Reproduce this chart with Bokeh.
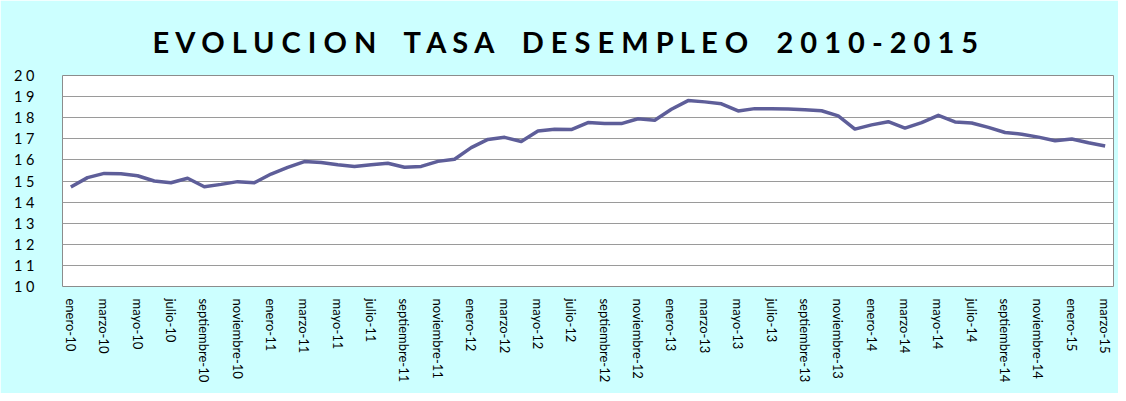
from bokeh.plotting import figure
from bokeh.models import FixedTicker, Range1d
from bokeh.embed import file_html
from bokeh.resources import INLINE

# ---- data ----
meses = ["enero", "febrero", "marzo", "abril", "mayo", "junio", "julio",
         "agosto", "septiembre", "octubre", "noviembre", "diciembre"]
anios = ["10", "11", "12", "13", "14", "15"]
categorias = [f"{m}-{a}" for a in anios for m in meses][:63]

tasa = [14.72, 15.16, 15.36, 15.34, 15.25, 15.00, 14.92, 15.13, 14.73, 14.84, 14.97, 14.92,
        15.33, 15.65, 15.92, 15.88, 15.77, 15.69, 15.77, 15.84, 15.65, 15.69, 15.93, 16.03,
        16.58, 16.97, 17.07, 16.87, 17.37, 17.45, 17.44, 17.77, 17.72, 17.72, 17.95, 17.88,
        18.40, 18.81, 18.75, 18.66, 18.32, 18.43, 18.43, 18.41, 18.38, 18.33, 18.09, 17.46,
        17.66, 17.81, 17.51, 17.77, 18.11, 17.80, 17.75, 17.54, 17.30, 17.22, 17.08, 16.91,
        16.99, 16.81, 16.66]

y_ticks = [10, 11, 12, 13, 14, 15, 16, 17, 18, 19, 20]
NB = "\u00a0"
y_tick_labels = [NB.join(str(t)) for t in y_ticks]

palabras = ["EVOLUCION", "TASA", "DESEMPLEO", "2010-2015"]
titulo = (NB * 4).join(NB.join(w) for w in palabras)

# ---- figure ----
BG = "#ccffff"
idx = list(range(len(categorias)))

p = figure(width=1118, height=393, output_backend="svg", toolbar_location=None,
           x_range=Range1d(-0.5, len(categorias) - 0.5), y_range=Range1d(10, 20),
           min_border_left=62, min_border_right=5, min_border_top=75, min_border_bottom=107,
           title=titulo)

p.background_fill_color = "white"
p.border_fill_color = BG
p.outline_line_color = "#8c8c8c"
p.outline_line_width = 1

p.title.align = "left"
p.title.text_font = "Lato"
p.title.text_font_size = "29px"
p.title.text_font_style = "bold"
p.title.text_color = "#000000"
p.title.standoff = 34
p.title.offset = 90

p.line(idx, tasa, line_color="#5e5e99", line_width=3.5, line_join="round")

# y axis
p.yaxis.ticker = FixedTicker(ticks=y_ticks)
p.yaxis.major_label_overrides = {t: l for t, l in zip(y_ticks, y_tick_labels)}
p.yaxis.axis_line_color = None
p.yaxis.major_tick_line_color = None
p.yaxis.minor_tick_line_color = None
p.yaxis.major_label_standoff = 22
p.yaxis.major_label_text_font = "Lato"
p.yaxis.major_label_text_font_size = "14.5px"
p.yaxis.major_label_text_color = "#000000"

# x axis
x_ticks = idx[::2]
p.xaxis.ticker = FixedTicker(ticks=x_ticks)
p.xaxis.major_label_overrides = {i: categorias[i] for i in x_ticks}
p.xaxis.major_label_orientation = "vertical"
p.xaxis.axis_line_color = None
p.xaxis.major_tick_line_color = None
p.xaxis.minor_tick_line_color = None
p.xaxis.major_label_standoff = 6
p.xaxis.major_label_text_font = "Lato"
p.xaxis.major_label_text_font_size = "13px"
p.xaxis.major_label_text_color = "#000000"

p.xgrid.grid_line_color = None
p.ygrid.ticker = FixedTicker(ticks=y_ticks)
p.ygrid.grid_line_color = "#9a9a9a"
p.ygrid.grid_line_width = 1

open("out.html", "w").write(file_html(p, INLINE))
